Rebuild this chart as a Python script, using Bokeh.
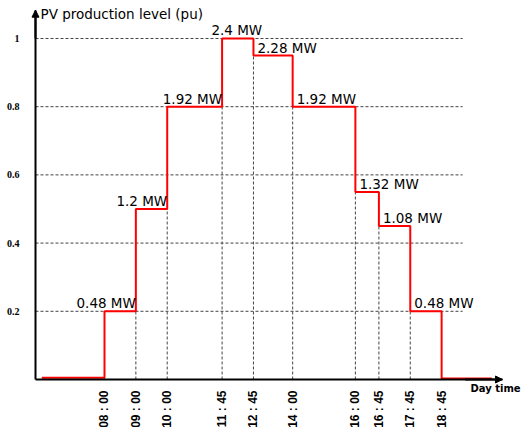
import math
from bokeh.plotting import figure
from bokeh.models import Range1d, FixedTicker, Arrow, NormalHead, Label
from bokeh.core.properties import value
from bokeh.embed import file_html
from bokeh.resources import INLINE

# ---------------- data ----------------
tick_labels = ["08 : 00", "09 : 00", "10 : 00", "11 : 45", "12 : 45",
               "14 : 00", "16 : 00", "16 : 45", "17 : 45", "18 : 45"]
# PV production level (pu) in each slot between consecutive ticks
slot_levels = [0.2, 0.5, 0.8, 1.0, 0.95, 0.8, 0.55, 0.45, 0.2]
slot_labels = ["0.48 MW", "1.2 MW", "1.92 MW", "2.4 MW", "2.28 MW",
               "1.92 MW", "1.32 MW", "1.08 MW", "0.48 MW"]
lead_time, lead_level = 6.0, 0.005    # before 08:00
tail_time, tail_level = 20.35, 0.003  # after 18:45
y_ticks = [0.2, 0.4, 0.6, 0.8, 1.0]
y_tick_labels = ["0.2", "0.4", "0.6", "0.8", "1"]

# ---------------- derived ----------------
tick_times = [int(s.split(":")[0]) + int(s.split(":")[1]) / 60 for s in tick_labels]
step_x = [lead_time] + tick_times + [tail_time]
step_y = [lead_level] + slot_levels + [tail_level, tail_level]

# layout constants (hours / pu)
X0, X1 = 4.684, 21.297      # visible x extent
XA = 5.80                    # where the vertical axis stands
XE = 20.69                   # tip of the horizontal axis arrow
Y0, Y1 = -0.1408, 1.1114     # visible y extent
YE = 1.083                   # tip of the vertical axis arrow
GRID_END = 19.42

p = figure(width=521, height=427, output_backend="svg", toolbar_location=None,
           x_range=Range1d(X0, X1), y_range=Range1d(Y0, Y1),
           min_border_left=0, min_border_right=0, min_border_top=0,
           min_border_bottom=0)
p.outline_line_color = None
p.xgrid.visible = False
p.ygrid.visible = False
p.background_fill_color = "white"
p.border_fill_color = "white"

# axes (crossing at the origin)
xa = p.xaxis[0]
xa.fixed_location = 0
xa.bounds = (XA, XE)
xa.ticker = FixedTicker(ticks=tick_times)
xa.major_label_overrides = {t: s for t, s in zip(tick_times, tick_labels)}
xa.major_label_orientation = math.pi / 2
xa.major_label_text_font = "Liberation Sans"
xa.major_label_text_font_style = "bold"
xa.major_label_text_font_size = "12px"
xa.major_label_text_color = "black"
xa.major_label_standoff = 5
xa.major_tick_line_color = None
xa.minor_tick_line_color = None
xa.axis_line_width = 2
xa.axis_line_color = "black"

ya = p.yaxis[0]
ya.fixed_location = XA
ya.bounds = (0, YE)
ya.ticker = FixedTicker(ticks=y_ticks)
ya.major_label_overrides = {t: s for t, s in zip(y_ticks, y_tick_labels)}
ya.major_label_text_font = "Liberation Serif"
ya.major_label_text_font_style = "bold"
ya.major_label_text_font_size = "10px"
ya.major_label_text_color = "black"
ya.major_label_standoff = 10
ya.major_tick_line_color = None
ya.minor_tick_line_color = None
ya.axis_line_width = 2
ya.axis_line_color = "black"

# horizontal dashed grid
p.segment(x0=[XA] * len(y_ticks), y0=y_ticks, x1=[GRID_END] * len(y_ticks), y1=y_ticks,
          line_color="#444444", line_width=1, line_dash="3 2")

# vertical dashed lines up to the lower adjacent level
v_tops = [min(step_y[i], step_y[i + 1]) for i in range(len(tick_times))]
p.segment(x0=tick_times, y0=[0] * len(tick_times), x1=tick_times, y1=v_tops,
          line_color="#444444", line_width=1, line_dash="3 2")

# red step curve
p.step(x=step_x, y=step_y, mode="after", line_color="#ff0000", line_width=2)

# slot labels
peak = slot_levels.index(max(slot_levels))
font = value("DejaVu Sans")
rx, ry, rt = [], [], []
lx, ly, lt = [], [], []
cx, cy, ct = [], [], []
for i, (lev, lab) in enumerate(zip(slot_levels, slot_labels)):
    if i < peak:
        rx.append(tick_times[i + 1]); ry.append(lev); rt.append(lab)
    elif i == peak:
        cx.append((tick_times[i] + tick_times[i + 1]) / 2); cy.append(lev); ct.append(lab)
    else:
        lx.append(tick_times[i]); ly.append(lev); lt.append(lab)
common = dict(text_font=font, text_font_size="13.5px", text_color="black",
              text_baseline="bottom", y_offset=0)
p.text(x=rx, y=ry, text=rt, text_align="right", x_offset=0, **common)
p.text(x=cx, y=cy, text=ct, text_align="center", x_offset=-1, **common)
p.text(x=lx, y=ly, text=lt, text_align="left", x_offset=4, **common)

# y-axis title
p.text(x=[XA], y=[1.073], text=["PV production level (pu)"], x_offset=5,
       text_font=font, text_font_size="13.5px", text_color="black",
       text_baseline="middle", text_align="left")

# axis arrow heads
p.add_layout(Arrow(end=NormalHead(size=7, fill_color="black", line_color="black", line_width=1),
                   x_start=XA, y_start=1.0, x_end=XA, y_end=YE,
                   line_color="black", line_width=2))
p.add_layout(Arrow(end=NormalHead(size=7, fill_color="black", line_color="black", line_width=1),
                   x_start=19.5, y_start=0, x_end=XE, y_end=0,
                   line_color="black", line_width=2))

p.add_layout(Label(x=19.67, y=0, y_offset=-9, text="Day time",
                   text_font="DejaVu Sans", text_font_style="bold",
                   text_font_size="10px", text_color="black",
                   text_baseline="middle", text_align="left"))

open("out.html", "w").write(file_html(p, INLINE))
